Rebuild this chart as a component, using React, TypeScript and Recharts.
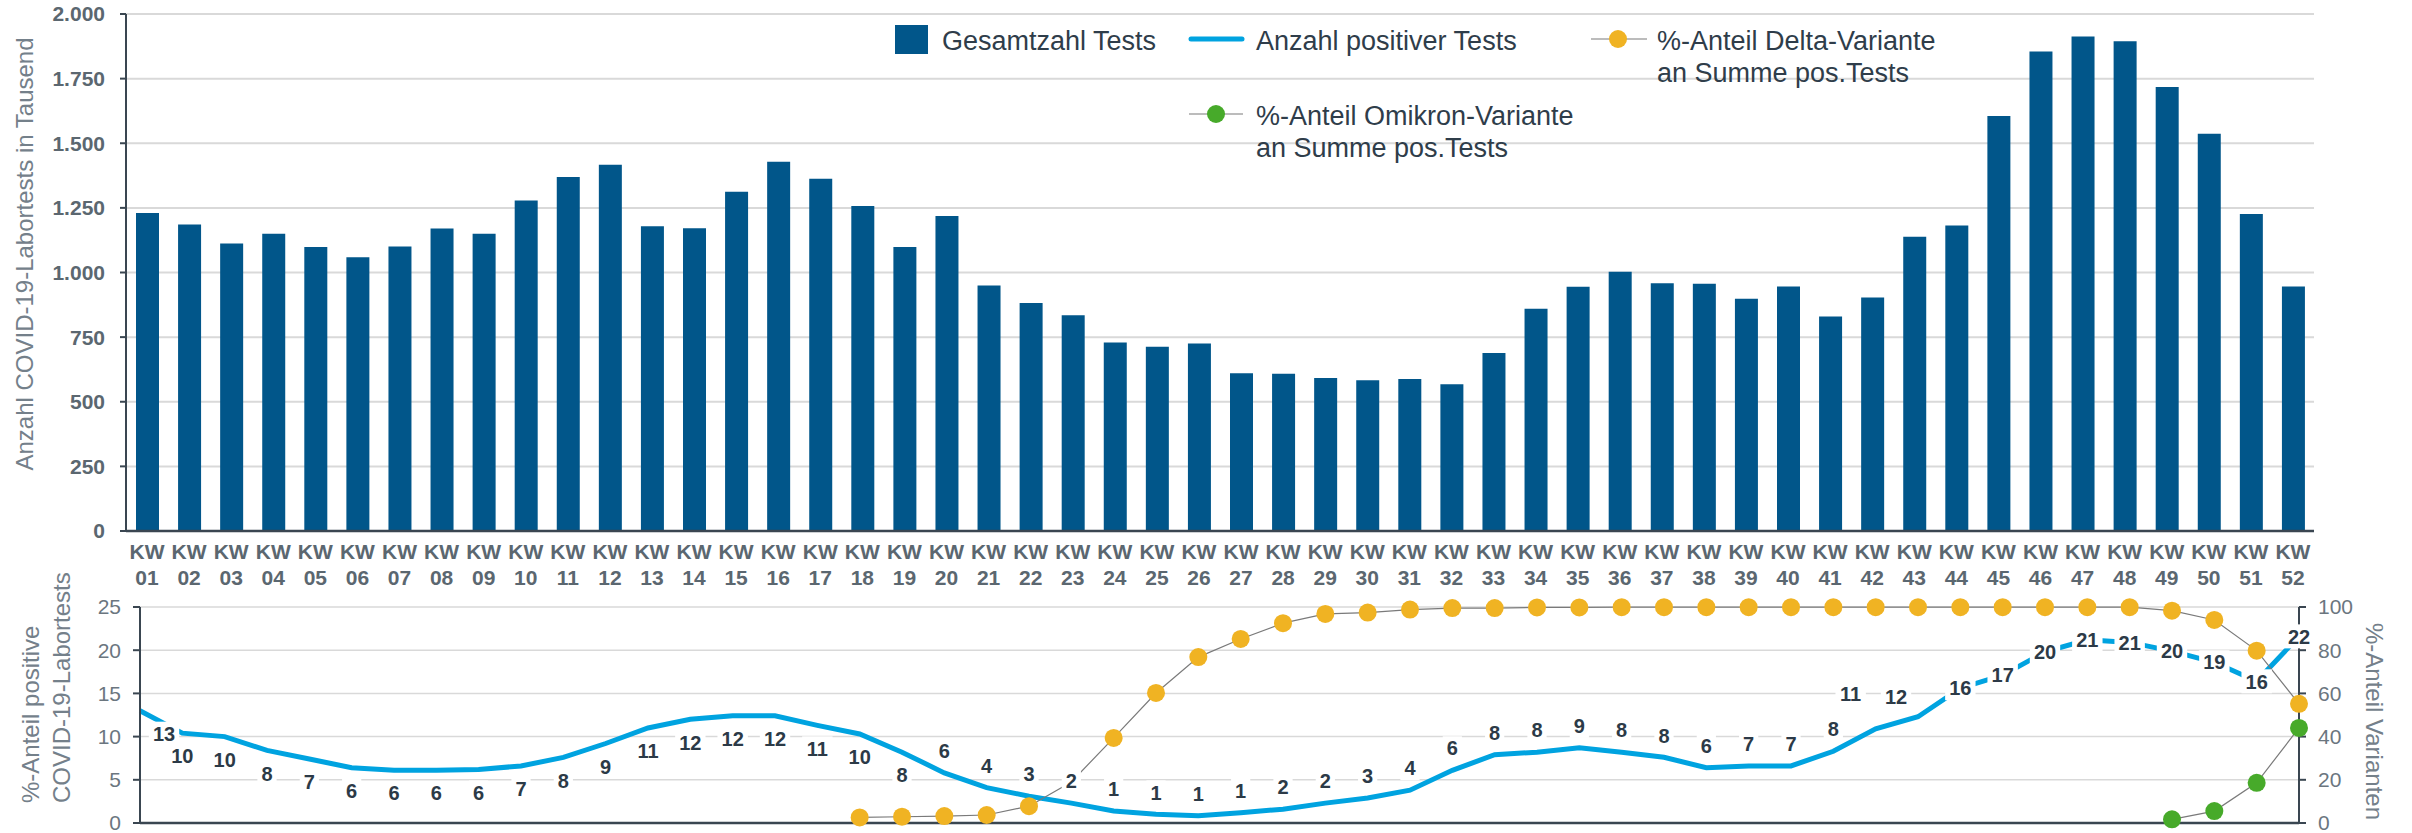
import {
  Bar,
  BarChart,
  CartesianGrid,
  LabelList,
  Legend,
  Line,
  LineChart,
  XAxis,
  YAxis,
} from 'recharts'

const WEEKS = [
  '01', '02', '03', '04', '05', '06', '07', '08', '09', '10', '11', '12', '13',
  '14', '15', '16', '17', '18', '19', '20', '21', '22', '23', '24', '25', '26',
  '27', '28', '29', '30', '31', '32', '33', '34', '35', '36', '37', '38', '39',
  '40', '41', '42', '43', '44', '45', '46', '47', '48', '49', '50', '51', '52',
]

// Gesamtzahl Tests, in Tausend
const TESTS = [
  1230, 1186, 1112, 1150, 1099, 1059, 1101, 1170, 1150, 1279, 1369, 1417, 1179,
  1171, 1312, 1428, 1363, 1257, 1099, 1219, 950, 882, 835, 729, 713, 725,
  610, 608, 592, 583, 588, 568, 689, 860, 945, 1003, 958, 956, 898,
  946, 830, 903, 1138, 1182, 1605, 1855, 1913, 1895, 1718, 1537, 1226, 946,
]

// %-Anteil positiver Tests
const POSITIVE = [
  13.0, 10.4, 10.0, 8.4, 7.4, 6.4, 6.1, 6.1, 6.2, 6.6, 7.6, 9.2, 11.0,
  12.0, 12.4, 12.4, 11.3, 10.3, 8.2, 5.8, 4.1, 3.1, 2.3, 1.4, 1.0, 0.85,
  1.2, 1.6, 2.3, 2.9, 3.8, 6.1, 7.9, 8.2, 8.7, 8.2, 7.6, 6.4, 6.6,
  6.6, 8.3, 10.9, 12.3, 15.6, 17.1, 19.8, 21.2, 20.9, 19.9, 18.6, 16.4, 21.6,
]

// %-Anteil Delta, ab KW 18
const DELTA_FROM = '18'
const DELTA = [
  2.6, 2.9, 3.2, 3.7, 7.8, 19, 39.4, 60.2, 76.8, 85.2, 92.5, 96.8, 97.4,
  98.8, 99.5, 99.5, 99.8, 99.8, 99.9, 99.9, 99.9, 99.9, 99.9, 99.9, 99.9,
  99.9, 99.9, 99.9, 99.9, 99.9, 99.9, 98.3, 94.0, 79.8, 55.2,
]

// %-Anteil Omikron, ab KW 49
const OMIKRON_FROM = '49'
const OMIKRON = [1.7, 5.5, 18.6, 44.0]

const TEST_TICKS = [0, 250, 500, 750, 1000, 1250, 1500, 1750, 2000]
const POS_TICKS = [0, 5, 10, 15, 20, 25]
const VAR_TICKS = [0, 20, 40, 60, 80, 100]

const NAMES = {
  tests: 'Gesamtzahl Tests',
  positive: 'Anzahl positiver Tests',
  delta: ['%-Anteil Delta-Variante', 'an Summe pos.Tests'],
  omikron: ['%-Anteil Omikron-Variante', 'an Summe pos.Tests'],
}

const COLORS = {
  bar: '#01568a',
  blue: '#00a3e0',
  gold: '#f0b323',
  green: '#47aa2a',
  connector: '#7a7a7a',
  grid: '#d9d9d9',
  axis: '#3a4651',
  tickBold: '#5b6770',
  tick: '#6b767f',
  title: '#74808a',
  legend: '#2f3d4a',
  label: '#2c3a47',
}

const FONT = '"Liberation Sans", Arial, Helvetica, sans-serif'
const W = 2412
const BOTTOM_TOP = 556

const deltaStart = WEEKS.indexOf(DELTA_FROM)
const omikronStart = WEEKS.indexOf(OMIKRON_FROM)

const rows = WEEKS.map((week, i) => ({
  week,
  tests: TESTS[i],
  positive: POSITIVE[i],
  delta: i >= deltaStart ? DELTA[i - deltaStart] : null,
  omikron: i >= omikronStart ? OMIKRON[i - omikronStart] : null,
}))

const fmtDe = (v: number) =>
  v >= 1000 ? `${Math.floor(v / 1000)}.${String(v % 1000).padStart(3, '0')}` : String(v)

function WeekTick({ x, y, payload }: any) {
  const style = { fontSize: 21, fontWeight: 700, fill: COLORS.tickBold }
  return (
    <g>
      <text x={x} y={y + 28} textAnchor="middle" {...style}>KW</text>
      <text x={x} y={y + 54} textAnchor="middle" {...style}>{payload.value}</text>
    </g>
  )
}

/** Data label for % positive: white box, placed below / above / on the line like the source. */
function PosLabel(props: any) {
  const { value, index } = props
  const px = props.x ?? props.viewBox?.x
  const py = props.y ?? props.viewBox?.y
  if (value == null || px == null || py == null) return null
  let dx = 0
  let dy = 0
  if (index <= 18) dy = 23
  else if (index <= 42) dy = -22
  if (index === 0) dx = 24
  if (index === 41) { dx = -25; dy = -35 }
  if (index === 42) { dx = -22; dy = -20 }
  const text = String(Math.round(value))
  const w = text.length * 11.2 + 8
  const cx = px + dx
  const cy = py + dy
  return (
    <g>
      <rect x={cx - w / 2} y={cy - 12} width={w} height={24} fill="#fff" />
      <text x={cx} y={cy} dy="0.36em" textAnchor="middle" fontSize={20} fontWeight={700} fill={COLORS.label}>
        {text}
      </text>
    </g>
  )
}

function LegendBox() {
  const txt = { fontSize: 27, fill: COLORS.legend }
  return (
    <svg width={W} height={170} style={{ display: 'block', fontFamily: FONT }}>
      <rect x={895} y={25} width={33} height={29} fill={COLORS.bar} />
      <text x={942} y={50} {...txt}>{NAMES.tests}</text>

      <line x1={1191} x2={1242} y1={39} y2={39} stroke={COLORS.blue} strokeWidth={5} strokeLinecap="round" />
      <text x={1256} y={50} {...txt}>{NAMES.positive}</text>

      <line x1={1591} x2={1647} y1={39} y2={39} stroke={COLORS.connector} strokeWidth={1.2} />
      <circle cx={1618} cy={39} r={9} fill={COLORS.gold} />
      <text x={1657} y={50} {...txt}>
        <tspan>{NAMES.delta[0]}</tspan>
        <tspan x={1657} dy={32}>{NAMES.delta[1]}</tspan>
      </text>

      <line x1={1189} x2={1243} y1={114} y2={114} stroke={COLORS.connector} strokeWidth={1.2} />
      <circle cx={1216} cy={114} r={9} fill={COLORS.green} />
      <text x={1256} y={125} {...txt}>
        <tspan>{NAMES.omikron[0]}</tspan>
        <tspan x={1256} dy={32}>{NAMES.omikron[1]}</tspan>
      </text>
    </svg>
  )
}

function TopTitle() {
  return (
    <text x={33} y={254} transform="rotate(-90, 33, 254)" textAnchor="middle" fontSize={24} fill={COLORS.title}>
      Anzahl COVID-19-Labortests in Tausend
    </text>
  )
}

function PosTitle() {
  const y = 803 - BOTTOM_TOP
  return (
    <g fontSize={24} fill={COLORS.title}>
      <text x={39} y={y} transform={`rotate(-90, 39, ${y})`} textAnchor="start">%-Anteil positive</text>
      <text x={70} y={y} transform={`rotate(-90, 70, ${y})`} textAnchor="start">COVID-19-Labortests</text>
    </g>
  )
}

function VarTitle() {
  const y = 623 - BOTTOM_TOP
  return (
    <text x={2366} y={y} transform={`rotate(90, 2366, ${y})`} textAnchor="start" fontSize={24} fill={COLORS.title}>
      %-Anteil Varianten
    </text>
  )
}

export default function App() {
  return (
    <div style={{ position: 'absolute', left: 0, top: 0, width: W, height: 833, background: '#fff', fontFamily: FONT }}>
      <div style={{ position: 'absolute', left: 0, top: 0 }}>
        <BarChart width={W} height={600} data={rows} margin={{ top: 14, right: 98, bottom: 9, left: 0 }}>
          <CartesianGrid vertical={false} stroke={COLORS.grid} strokeWidth={2} />
          <XAxis
            dataKey="week"
            interval={0}
            height={60}
            tickLine={false}
            tickSize={0}
            tickMargin={0}
            axisLine={{ stroke: COLORS.axis, strokeWidth: 2.5 }}
            tick={<WeekTick />}
          />
          <YAxis
            width={126}
            domain={[0, 2000]}
            ticks={TEST_TICKS}
            interval={0}
            tickFormatter={fmtDe}
            tickSize={6}
            tickMargin={15}
            tickLine={{ stroke: COLORS.axis, strokeWidth: 2 }}
            axisLine={{ stroke: COLORS.axis, strokeWidth: 2 }}
            tick={{ fontSize: 21, fontWeight: 700, fill: COLORS.tickBold }}
            label={<TopTitle />}
          />
          <Legend
            layout="horizontal"
            verticalAlign="middle"
            align="center"
            wrapperStyle={{ left: 0, top: 0, width: W, height: 170 }}
            content={() => <LegendBox />}
          />
          <Bar dataKey="tests" name={NAMES.tests} fill={COLORS.bar} barSize={23} isAnimationActive={false} />
        </BarChart>
      </div>

      <div style={{ position: 'absolute', left: 0, top: BOTTOM_TOP }}>
        <LineChart width={W} height={277} data={rows} margin={{ top: 51, right: 0, bottom: 9, left: 0 }}>
          <CartesianGrid vertical={false} stroke={COLORS.grid} strokeWidth={1.5} />
          <XAxis
            dataKey="week"
            scale="point"
            height={1}
            tick={false}
            tickLine={false}
            axisLine={{ stroke: COLORS.axis, strokeWidth: 2.5 }}
          />
          <YAxis
            width={140}
            domain={[0, 25]}
            ticks={POS_TICKS}
            interval={0}
            tickSize={7}
            tickMargin={12}
            tickLine={{ stroke: COLORS.axis, strokeWidth: 2 }}
            axisLine={{ stroke: COLORS.axis, strokeWidth: 2 }}
            tick={{ fontSize: 21, fill: COLORS.tick }}
            label={<PosTitle />}
          />
          <YAxis
            yAxisId="var"
            orientation="right"
            width={113}
            domain={[0, 100]}
            ticks={VAR_TICKS}
            interval={0}
            tickSize={7}
            tickMargin={12}
            tickLine={{ stroke: COLORS.axis, strokeWidth: 2 }}
            axisLine={{ stroke: COLORS.axis, strokeWidth: 2 }}
            tick={{ fontSize: 21, fill: COLORS.tick }}
            label={<VarTitle />}
          />
          <Line
            dataKey="positive"
            name={NAMES.positive}
            stroke={COLORS.blue}
            strokeWidth={5}
            dot={false}
            activeDot={false}
            isAnimationActive={false}
          />
          <Line
            yAxisId="var"
            dataKey="delta"
            name={NAMES.delta.join(' ')}
            stroke={COLORS.connector}
            strokeWidth={1.2}
            dot={{ r: 9, fill: COLORS.gold, stroke: COLORS.gold, strokeWidth: 0 }}
            activeDot={false}
            isAnimationActive={false}
          />
          <Line
            yAxisId="var"
            dataKey="omikron"
            name={NAMES.omikron.join(' ')}
            stroke={COLORS.connector}
            strokeWidth={1.2}
            dot={{ r: 9, fill: COLORS.green, stroke: COLORS.green, strokeWidth: 0 }}
            activeDot={false}
            isAnimationActive={false}
          />
          {/* labels drawn last so their white boxes sit on top of every line */}
          <Line
            dataKey="positive"
            stroke="none"
            dot={false}
            activeDot={false}
            legendType="none"
            isAnimationActive={false}
          >
            <LabelList dataKey="positive" content={<PosLabel />} />
          </Line>
        </LineChart>
      </div>
    </div>
  )
}
